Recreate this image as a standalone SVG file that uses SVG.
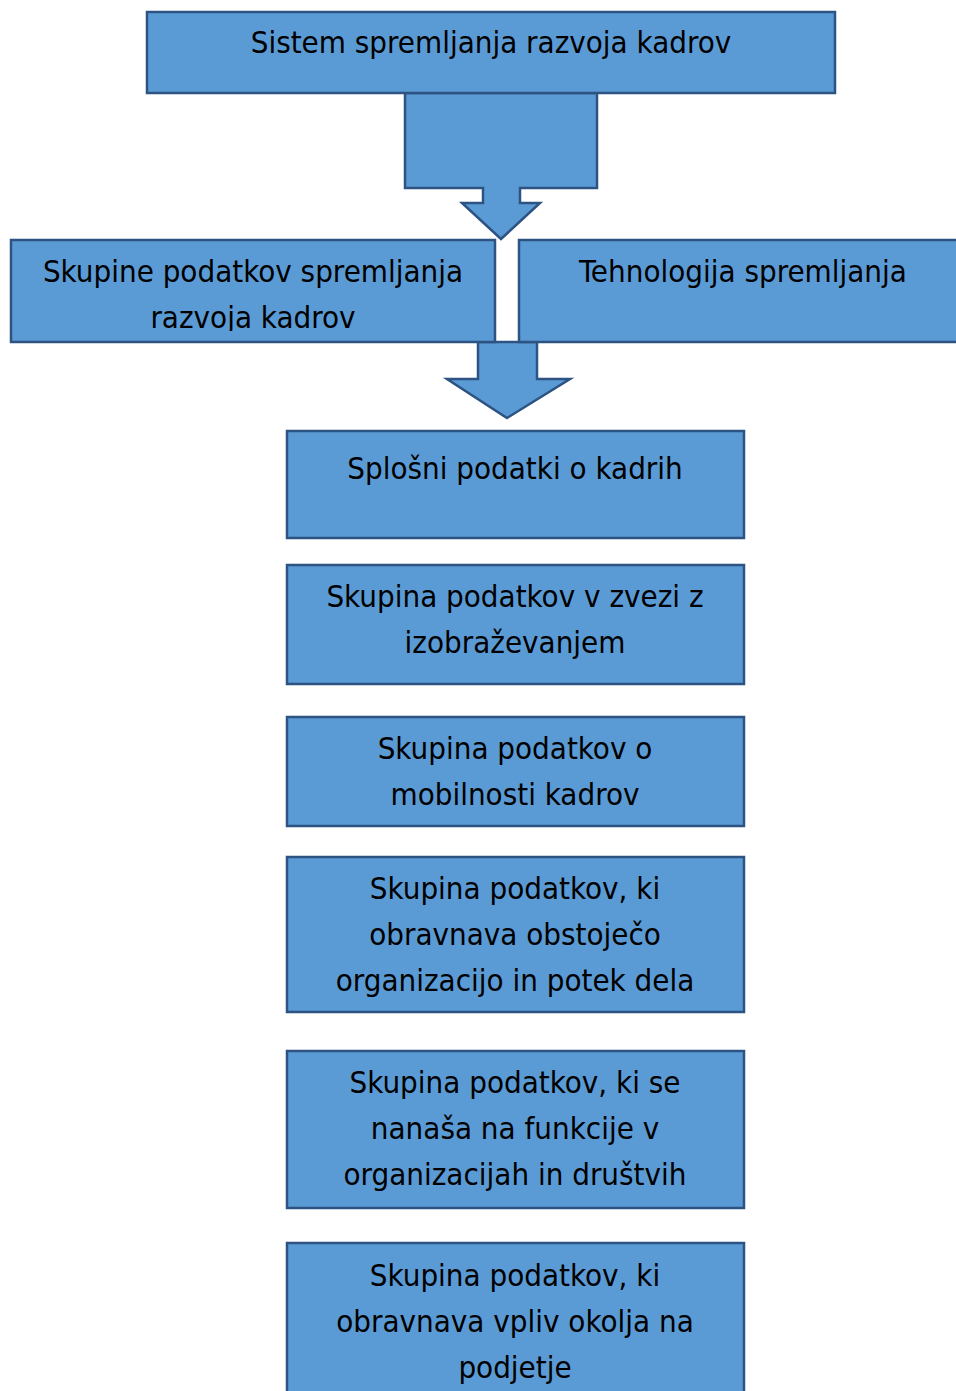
<svg xmlns="http://www.w3.org/2000/svg" width="956" height="1391" viewBox="0 0 956 1391">
<style>
.b{fill:#5b9bd5;stroke:#2c5382;stroke-width:2.5}
.t{font-family:"DejaVu Sans Condensed","DejaVu Sans",sans-serif;font-stretch:condensed;font-size:31px;fill:#000;text-anchor:middle}
</style>
<defs>
<clipPath id="c2"><rect x="0" y="240" width="500" height="91"/></clipPath>
</defs>
<rect width="956" height="1391" fill="#fff"/>
<g id="connectors">
<polygon class="b" points="405,93 597,93 597,188 520,188 520,203 540,203 501,239 462,203 483,203 483,188 405,188"/>
<polygon class="b" points="478,342 537,342 537,379 570,379 507,418 447,379 478,379"/>
</g>
<g id="n1"><rect class="b" x="147" y="12" width="688" height="81"/><text class="t" x="491" y="53">Sistem spremljanja razvoja kadrov</text></g>
<g id="n2"><rect class="b" x="11" y="240" width="484" height="102"/><g clip-path="url(#c2)"><text class="t" x="253" y="282">Skupine podatkov spremljanja</text><text class="t" x="253" y="328">razvoja kadrov</text></g></g>
<g id="n3"><rect class="b" x="519" y="240" width="445" height="102"/><text class="t" x="743" y="282">Tehnologija spremljanja</text></g>
<g id="n4"><rect class="b" x="287" y="431" width="457" height="107"/><text class="t" x="515" y="479">Splošni podatki o kadrih</text></g>
<g id="n5"><rect class="b" x="287" y="565" width="457" height="119"/><text class="t" x="515" y="607">Skupina podatkov v zvezi z</text><text class="t" x="515" y="653">izobraževanjem</text></g>
<g id="n6"><rect class="b" x="287" y="717" width="457" height="109"/><text class="t" x="515" y="759">Skupina podatkov o</text><text class="t" x="515" y="805">mobilnosti kadrov</text></g>
<g id="n7"><rect class="b" x="287" y="857" width="457" height="155"/><text class="t" x="515" y="899">Skupina podatkov, ki</text><text class="t" x="515" y="945">obravnava obstoječo</text><text class="t" x="515" y="991">organizacijo in potek dela</text></g>
<g id="n8"><rect class="b" x="287" y="1051" width="457" height="157"/><text class="t" x="515" y="1093">Skupina podatkov, ki se</text><text class="t" x="515" y="1139">nanaša na funkcije v</text><text class="t" x="515" y="1185">organizacijah in društvih</text></g>
<g id="n9"><rect class="b" x="287" y="1243" width="457" height="160"/><text class="t" x="515" y="1286">Skupina podatkov, ki</text><text class="t" x="515" y="1332">obravnava vpliv okolja na</text><text class="t" x="515" y="1378">podjetje</text></g>
</svg>
